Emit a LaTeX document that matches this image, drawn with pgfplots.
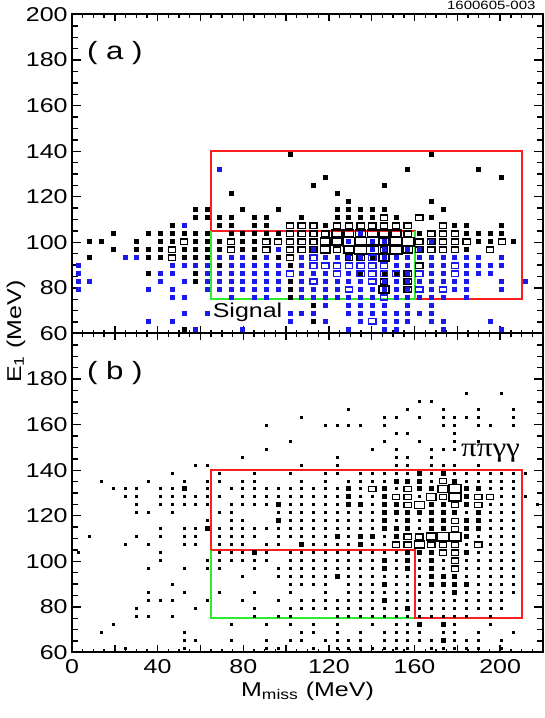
\documentclass[border=0pt]{standalone}
\usepackage{fontspec}
\setmainfont{Liberation Sans}[FakeStretch=1.25]
\newfontfamily\greekfont{Liberation Serif}[FakeStretch=1.15]
\usepackage{pgfplots}
\pgfplotsset{compat=1.18}

\definecolor{rootred}{RGB}{250,30,30}
\definecolor{rootgreen}{RGB}{45,235,45}
\definecolor{rootblue}{RGB}{25,25,235}

% open box as wide as a bin is to its height
\pgfdeclareplotmark{rbox}{%
  \pgfpathrectangle{\pgfqpoint{-1.4\pgfplotmarksize}{-\pgfplotmarksize}}%
    {\pgfqpoint{2.8\pgfplotmarksize}{2\pgfplotmarksize}}%
  \pgfusepathqstroke}

\pgfplotsset{
  panel/.style={
    scale only axis, width=235.5pt, height=159.5pt,
    xmin=0, xmax=220, ymin=60, ymax=200,
    axis line style={line width=1pt},
    xtick={0,20,...,220},
    minor xtick={0,5,...,220},
    ytick={60,80,...,200},
    minor ytick={60,65,...,200},
    tick align=inside,
    every tick/.style={black, line width=0.7pt},
    xtick style={/pgfplots/major tick length=3.5pt, /pgfplots/minor tick length=1.8pt},
    ytick style={/pgfplots/major tick length=4.5pt, /pgfplots/minor tick length=3pt},
    tick label style={font=\fontsize{10}{12}\selectfont},
    yticklabel style={inner xsep=2pt},
    /pgf/number format/assume math mode=true,
    clip=false,
  },
  boxes/.style={scatter, only marks, point meta=explicit symbolic,
    scatter/classes={
      1={mark=square*, mark size=0.5pt},
      2={mark=square*, mark size=1pt},
      3={mark=rbox, mark size=1.3pt, line width=0.65pt},
      4={mark=rbox, mark size=1.75pt, line width=0.75pt},
      5={mark=rbox, mark size=2.15pt, line width=0.85pt}}},
}

\begin{document}
\begin{tikzpicture}
\useasboundingbox (0,0) rectangle (272.5pt,359pt);

% ---------------- panel (a) ----------------
\begin{axis}[panel, at={(36pt,192.25pt)}, anchor=south west,
  xticklabels={,,,,,,,,,,,}]

% black histogram
\addplot[boxes, black] coordinates {
(101.8,138.8)[2] (167.8,138.8)[2]
(156.8,131.8)[2] (189.8,131.8)[2]
(118.3,128.3)[2] (200.8,128.3)[2]
(112.8,124.8)[2] (145.8,124.8)[2]
(74.3,121.3)[2] (123.8,121.3)[2]
(129.3,117.8)[2] (167.8,117.8)[2]
(57.8,114.3)[2] (63.3,114.3)[2] (79.8,114.3)[2] (96.3,114.3)[2] (123.8,114.3)[2] (129.3,114.3)[2] (134.8,114.3)[2] (140.3,114.3)[2] (145.8,114.3)[2] (173.3,114.3)[2]
(57.8,110.8)[2] (63.3,110.8)[2] (68.8,110.8)[2] (74.3,110.8)[2] (85.3,110.8)[2] (90.8,110.8)[2] (107.3,110.8)[2] (123.8,110.8)[2] (129.3,110.8)[2] (134.8,110.8)[2] (140.3,110.8)[2] (145.8,110.8)[3] (151.3,110.8)[2] (162.3,110.8)[3] (167.8,110.8)[2]
(46.8,107.3)[2] (68.8,107.3)[2] (74.3,107.3)[2] (85.3,107.3)[2] (90.8,107.3)[2] (101.8,107.3)[3] (107.3,107.3)[3] (112.8,107.3)[3] (118.3,107.3)[2] (123.8,107.3)[3] (129.3,107.3)[3] (134.8,107.3)[3] (140.3,107.3)[3] (145.8,107.3)[3] (151.3,107.3)[3] (156.8,107.3)[3] (173.3,107.3)[3] (178.8,107.3)[2] (184.3,107.3)[2] (200.8,107.3)[2]
(19.3,103.8)[2] (35.8,103.8)[2] (41.3,103.8)[2] (46.8,103.8)[2] (52.3,103.8)[2] (57.8,103.8)[2] (63.3,103.8)[2] (74.3,103.8)[2] (79.8,103.8)[2] (85.3,103.8)[2] (90.8,103.8)[2] (96.3,103.8)[2] (101.8,103.8)[3] (107.3,103.8)[3] (112.8,103.8)[3] (118.3,103.8)[3] (123.8,103.8)[4] (129.3,103.8)[4] (134.8,103.8)[4] (140.3,103.8)[4] (145.8,103.8)[4] (151.3,103.8)[4] (156.8,103.8)[3] (162.3,103.8)[2] (167.8,103.8)[3] (173.3,103.8)[3] (178.8,103.8)[3] (184.3,103.8)[2] (189.8,103.8)[2] (195.3,103.8)[2] (200.8,103.8)[2]
(8.3,100.3)[2] (13.8,100.3)[2] (30.3,100.3)[2] (41.3,100.3)[2] (46.8,100.3)[2] (52.3,100.3)[3] (57.8,100.3)[2] (63.3,100.3)[2] (68.8,100.3)[2] (74.3,100.3)[3] (79.8,100.3)[2] (85.3,100.3)[2] (90.8,100.3)[3] (96.3,100.3)[3] (101.8,100.3)[3] (107.3,100.3)[3] (112.8,100.3)[3] (118.3,100.3)[4] (123.8,100.3)[4] (129.3,100.3)[5] (134.8,100.3)[5] (140.3,100.3)[5] (145.8,100.3)[4] (151.3,100.3)[5] (156.8,100.3)[5] (162.3,100.3)[3] (167.8,100.3)[3] (173.3,100.3)[3] (178.8,100.3)[3] (184.3,100.3)[3] (189.8,100.3)[2] (195.3,100.3)[2] (200.8,100.3)[3] (206.3,100.3)[2]
(19.3,96.8)[2] (30.3,96.8)[2] (35.8,96.8)[2] (41.3,96.8)[2] (46.8,96.8)[3] (52.3,96.8)[2] (57.8,96.8)[2] (63.3,96.8)[2] (68.8,96.8)[2] (74.3,96.8)[3] (79.8,96.8)[2] (85.3,96.8)[2] (90.8,96.8)[3] (101.8,96.8)[3] (107.3,96.8)[3] (112.8,96.8)[3] (118.3,96.8)[4] (123.8,96.8)[3] (129.3,96.8)[4] (134.8,96.8)[5] (140.3,96.8)[5] (145.8,96.8)[3] (151.3,96.8)[5] (156.8,96.8)[4] (162.3,96.8)[3] (167.8,96.8)[3] (173.3,96.8)[3] (178.8,96.8)[3] (184.3,96.8)[2] (195.3,96.8)[3]
(8.3,93.3)[2] (35.8,93.3)[2] (41.3,93.3)[2] (46.8,93.3)[3] (52.3,93.3)[2] (57.8,93.3)[2] (63.3,93.3)[2] (85.3,93.3)[2] (96.3,93.3)[2] (101.8,93.3)[3] (123.8,93.3)[2] (129.3,93.3)[3] (134.8,93.3)[3] (140.3,93.3)[2] (145.8,93.3)[4]
(68.8,89.8)[2] (101.8,89.8)[2] (162.3,89.8)[3]
(35.8,86.3)[2] (57.8,86.3)[2] (134.8,86.3)[2] (145.8,86.3)[2] (151.3,86.3)[2] (156.8,86.3)[3]
(57.8,82.8)[2] (101.8,82.8)[2] (129.3,82.8)[2] (145.8,82.8)[3] (156.8,82.8)[3]
(101.8,79.3)[2] (145.8,79.3)[4] (156.8,79.3)[3]
(101.8,75.8)[2] (112.8,72.3)[2] (112.8,65.3)[2] (52.3,61.8)[2]
};

% blue histogram
\addplot[boxes, rootblue] coordinates {
(68.8,131.8)[2] (52.3,107.3)[2] (134.8,103.8)[2]
(129.3,100.3)[2] (140.3,100.3)[2] (145.8,100.3)[2] (167.8,100.3)[2]
(96.3,96.8)[2] (112.8,96.8)[2] (140.3,96.8)[2] (145.8,96.8)[2] (156.8,96.8)[2] (162.3,96.8)[2]
(24.8,93.3)[2] (30.3,93.3)[2] (68.8,93.3)[2] (74.3,93.3)[2] (79.8,93.3)[2] (90.8,93.3)[2] (107.3,93.3)[2] (112.8,93.3)[3] (118.3,93.3)[2] (123.8,93.3)[2] (129.3,93.3)[2] (134.8,93.3)[2] (140.3,93.3)[3] (145.8,93.3)[2] (151.3,93.3)[2] (156.8,93.3)[2] (162.3,93.3)[2] (167.8,93.3)[2] (173.3,93.3)[2] (178.8,93.3)[2] (184.3,93.3)[2] (189.8,93.3)[2] (200.8,93.3)[2]
(2.8,89.8)[2] (46.8,89.8)[2] (52.3,89.8)[2] (57.8,89.8)[2] (63.3,89.8)[2] (74.3,89.8)[2] (79.8,89.8)[2] (85.3,89.8)[2] (90.8,89.8)[2] (96.3,89.8)[2] (107.3,89.8)[2] (112.8,89.8)[3] (118.3,89.8)[3] (123.8,89.8)[3] (129.3,89.8)[3] (134.8,89.8)[3] (140.3,89.8)[3] (145.8,89.8)[3] (151.3,89.8)[2] (156.8,89.8)[2] (167.8,89.8)[2] (173.3,89.8)[2] (178.8,89.8)[3] (184.3,89.8)[2] (189.8,89.8)[2] (195.3,89.8)[2] (200.8,89.8)[2]
(2.8,86.3)[2] (41.3,86.3)[2] (46.8,86.3)[2] (63.3,86.3)[2] (68.8,86.3)[2] (74.3,86.3)[2] (79.8,86.3)[2] (85.3,86.3)[2] (90.8,86.3)[2] (96.3,86.3)[2] (101.8,86.3)[3] (107.3,86.3)[2] (112.8,86.3)[2] (118.3,86.3)[2] (123.8,86.3)[3] (129.3,86.3)[2] (134.8,86.3)[3] (140.3,86.3)[3] (145.8,86.3)[3] (151.3,86.3)[3] (156.8,86.3)[2] (162.3,86.3)[3] (167.8,86.3)[2] (173.3,86.3)[2] (178.8,86.3)[3] (184.3,86.3)[2] (189.8,86.3)[2] (195.3,86.3)[2]
(2.8,82.8)[2] (8.3,82.8)[2] (41.3,82.8)[2] (52.3,82.8)[2] (63.3,82.8)[2] (68.8,82.8)[2] (74.3,82.8)[2] (79.8,82.8)[2] (85.3,82.8)[2] (90.8,82.8)[2] (96.3,82.8)[2] (107.3,82.8)[2] (112.8,82.8)[3] (118.3,82.8)[2] (123.8,82.8)[2] (129.3,82.8)[2] (134.8,82.8)[2] (140.3,82.8)[3] (145.8,82.8)[2] (151.3,82.8)[2] (156.8,82.8)[2] (162.3,82.8)[2] (167.8,82.8)[2] (173.3,82.8)[2] (178.8,82.8)[2] (184.3,82.8)[2] (200.8,82.8)[2] (211.8,82.8)[2]
(2.8,79.3)[2] (35.8,79.3)[2] (46.8,79.3)[2] (63.3,79.3)[2] (68.8,79.3)[2] (74.3,79.3)[2] (79.8,79.3)[2] (85.3,79.3)[2] (90.8,79.3)[2] (96.3,79.3)[2] (107.3,79.3)[2] (112.8,79.3)[2] (118.3,79.3)[2] (123.8,79.3)[2] (129.3,79.3)[3] (134.8,79.3)[2] (140.3,79.3)[2] (145.8,79.3)[2] (151.3,79.3)[2] (156.8,79.3)[2] (162.3,79.3)[3] (167.8,79.3)[2] (173.3,79.3)[3] (178.8,79.3)[2] (184.3,79.3)[2] (200.8,79.3)[2]
(46.8,75.8)[2] (52.3,75.8)[2] (74.3,75.8)[2] (85.3,75.8)[2] (90.8,75.8)[2] (107.3,75.8)[2] (112.8,75.8)[2] (118.3,75.8)[2] (123.8,75.8)[2] (129.3,75.8)[2] (134.8,75.8)[2] (140.3,75.8)[2] (145.8,75.8)[3] (151.3,75.8)[2] (156.8,75.8)[2] (162.3,75.8)[2] (167.8,75.8)[2] (173.3,75.8)[2] (184.3,75.8)[2]
(118.3,72.3)[2] (129.3,72.3)[2] (134.8,72.3)[2] (140.3,72.3)[2] (145.8,72.3)[2] (156.8,72.3)[2] (167.8,72.3)[2]
(52.3,68.8)[2] (63.3,68.8)[2] (101.8,68.8)[2] (107.3,68.8)[2] (112.8,68.8)[2] (129.3,68.8)[2] (134.8,68.8)[2] (140.3,68.8)[2] (145.8,68.8)[2] (151.3,68.8)[2] (156.8,68.8)[2] (162.3,68.8)[2] (167.8,68.8)[2]
(35.8,65.3)[2] (46.8,65.3)[2] (101.8,65.3)[2] (118.3,65.3)[2] (134.8,65.3)[2] (140.3,65.3)[3] (145.8,65.3)[2] (151.3,65.3)[2] (156.8,65.3)[2] (167.8,65.3)[2] (173.3,65.3)[2] (195.3,65.3)[2]
(57.8,61.8)[2] (79.8,61.8)[2] (129.3,61.8)[2] (145.8,61.8)[2] (151.3,61.8)[2] (173.3,61.8)[2] (200.8,61.8)[2]
};

% selection boxes
\addplot[rootred, line width=1pt, no markers] coordinates {
(65,105) (65,140) (210,140) (210,75) (160,75) (160,105) (65,105)};
\addplot[rootgreen, line width=1pt, no markers] coordinates {
(65,105) (65,75) (160,75) (160,105)};

\node[font=\fontsize{12.5}{14}\selectfont] at (axis cs:20,183) {( a )};
\node[font=\fontsize{10}{12}\selectfont] at (axis cs:82,69.5) {Signal};
\node[font=\fontsize{6}{7}\selectfont, anchor=south east, inner sep=0pt]
  at ([yshift=2pt]rel axis cs:0.985,1) {1600605-003};
\end{axis}

% ---------------- panel (b) ----------------
\begin{axis}[panel, at={(36pt,32.75pt)}, anchor=south west,
  xticklabels={0,,40,,80,,120,,160,,200,},
  yticklabels={60,80,100,120,140,160,180,{}}]

\addplot[rootgreen, line width=1pt, no markers] coordinates {
(65,105) (65,75) (160,75) (160,105) (65,105)};
\addplot[rootred, line width=1pt, no markers] coordinates {
(65,105) (65,140) (210,140) (210,75) (160,75) (160,105) (65,105)};

% single entries
\addplot[black, only marks, mark=square*, mark size=0.5pt] coordinates {
(184.3,173.8) (200.8,173.8)
(162.3,170.3) (167.8,170.3)
(129.3,166.8) (156.8,166.8) (173.3,166.8) (189.8,166.8) (206.3,166.8)
(107.3,163.3) (145.8,163.3) (151.3,163.3) (162.3,163.3) (173.3,163.3) (178.8,163.3) (184.3,163.3) (189.8,163.3) (206.3,163.3)
(90.8,159.8) (118.3,159.8) (123.8,159.8) (129.3,159.8) (134.8,159.8) (145.8,159.8) (173.3,159.8) (178.8,159.8) (189.8,159.8) (195.3,159.8) (206.3,159.8)
(151.3,156.3) (156.8,156.3) (178.8,156.3)
(101.8,152.8) (145.8,152.8) (162.3,152.8) (178.8,152.8) (189.8,152.8)
(90.8,149.3) (140.3,149.3) (151.3,149.3) (167.8,149.3) (173.3,149.3) (178.8,149.3)
(79.8,145.8) (123.8,145.8) (151.3,145.8) (156.8,145.8) (167.8,145.8)
(57.8,142.3) (63.3,142.3) (107.3,142.3) (123.8,142.3) (151.3,142.3) (156.8,142.3) (167.8,142.3) (173.3,142.3) (178.8,142.3) (189.8,142.3)
(46.8,138.8) (68.8,138.8) (85.3,138.8) (101.8,138.8) (118.3,138.8) (123.8,138.8) (134.8,138.8) (140.3,138.8) (145.8,138.8) (151.3,138.8) (156.8,138.8) (167.8,138.8) (178.8,138.8) (184.3,138.8) (189.8,138.8) (195.3,138.8) (200.8,138.8) (206.3,138.8) (211.8,138.8)
(13.8,135.3) (35.8,135.3) (52.3,135.3) (63.3,135.3) (68.8,135.3) (79.8,135.3) (85.3,135.3) (107.3,135.3) (118.3,135.3) (129.3,135.3) (134.8,135.3) (140.3,135.3) (145.8,135.3) (167.8,135.3) (184.3,135.3) (189.8,135.3) (195.3,135.3) (200.8,135.3) (206.3,135.3)
(19.3,131.8) (24.8,131.8) (30.3,131.8) (41.3,131.8) (46.8,131.8) (63.3,131.8) (74.3,131.8) (79.8,131.8) (85.3,131.8) (90.8,131.8) (96.3,131.8) (101.8,131.8) (107.3,131.8) (112.8,131.8) (118.3,131.8) (123.8,131.8) (134.8,131.8) (151.3,131.8) (195.3,131.8) (200.8,131.8) (206.3,131.8)
(24.8,128.3) (30.3,128.3) (41.3,128.3) (46.8,128.3) (52.3,128.3) (57.8,128.3) (63.3,128.3) (68.8,128.3) (79.8,128.3) (85.3,128.3) (90.8,128.3) (96.3,128.3) (101.8,128.3) (107.3,128.3) (112.8,128.3) (118.3,128.3) (123.8,128.3) (134.8,128.3) (140.3,128.3) (162.3,128.3) (200.8,128.3) (206.3,128.3) (211.8,128.3)
(30.3,124.8) (41.3,124.8) (46.8,124.8) (52.3,124.8) (57.8,124.8) (63.3,124.8) (74.3,124.8) (79.8,124.8) (85.3,124.8) (90.8,124.8) (101.8,124.8) (107.3,124.8) (112.8,124.8) (118.3,124.8) (123.8,124.8) (140.3,124.8) (195.3,124.8) (200.8,124.8) (206.3,124.8) (217.3,124.8)
(30.3,121.3) (35.8,121.3) (46.8,121.3) (68.8,121.3) (74.3,121.3) (96.3,121.3) (101.8,121.3) (107.3,121.3) (112.8,121.3) (118.3,121.3) (123.8,121.3) (129.3,121.3) (134.8,121.3) (140.3,121.3) (184.3,121.3) (195.3,121.3) (200.8,121.3) (206.3,121.3)
(63.3,117.8) (74.3,117.8) (79.8,117.8) (101.8,117.8) (107.3,117.8) (112.8,117.8) (118.3,117.8) (123.8,117.8) (129.3,117.8) (134.8,117.8) (140.3,117.8) (151.3,117.8) (162.3,117.8) (195.3,117.8) (200.8,117.8) (206.3,117.8)
(41.3,114.3) (52.3,114.3) (57.8,114.3) (68.8,114.3) (74.3,114.3) (79.8,114.3) (85.3,114.3) (90.8,114.3) (96.3,114.3) (101.8,114.3) (107.3,114.3) (112.8,114.3) (118.3,114.3) (123.8,114.3) (129.3,114.3) (134.8,114.3) (140.3,114.3) (162.3,114.3) (195.3,114.3) (200.8,114.3) (206.3,114.3)
(8.3,110.8) (30.3,110.8) (41.3,110.8) (52.3,110.8) (57.8,110.8) (68.8,110.8) (74.3,110.8) (79.8,110.8) (85.3,110.8) (96.3,110.8) (101.8,110.8) (107.3,110.8) (112.8,110.8) (118.3,110.8) (129.3,110.8) (145.8,110.8) (189.8,110.8) (195.3,110.8) (200.8,110.8) (206.3,110.8)
(24.8,107.3) (35.8,107.3) (52.3,107.3) (57.8,107.3) (68.8,107.3) (74.3,107.3) (79.8,107.3) (90.8,107.3) (96.3,107.3) (112.8,107.3) (118.3,107.3) (123.8,107.3) (129.3,107.3) (140.3,107.3) (145.8,107.3) (184.3,107.3) (195.3,107.3) (200.8,107.3) (206.3,107.3)
(2.8,103.8) (41.3,103.8) (68.8,103.8) (74.3,103.8) (79.8,103.8) (90.8,103.8) (101.8,103.8) (107.3,103.8) (112.8,103.8) (118.3,103.8) (123.8,103.8) (129.3,103.8) (134.8,103.8) (140.3,103.8) (145.8,103.8) (151.3,103.8) (189.8,103.8) (195.3,103.8) (200.8,103.8) (206.3,103.8)
(41.3,100.3) (63.3,100.3) (68.8,100.3) (74.3,100.3) (79.8,100.3) (85.3,100.3) (90.8,100.3) (101.8,100.3) (107.3,100.3) (112.8,100.3) (118.3,100.3) (123.8,100.3) (129.3,100.3) (134.8,100.3) (140.3,100.3) (151.3,100.3) (162.3,100.3) (173.3,100.3) (184.3,100.3) (189.8,100.3) (195.3,100.3) (200.8,100.3) (206.3,100.3)
(35.8,96.8) (52.3,96.8) (63.3,96.8) (68.8,96.8) (85.3,96.8) (96.3,96.8) (101.8,96.8) (107.3,96.8) (112.8,96.8) (118.3,96.8) (123.8,96.8) (129.3,96.8) (134.8,96.8) (140.3,96.8) (151.3,96.8) (162.3,96.8) (173.3,96.8) (184.3,96.8) (189.8,96.8) (195.3,96.8) (200.8,96.8) (206.3,96.8)
(79.8,93.3) (96.3,93.3) (101.8,93.3) (107.3,93.3) (112.8,93.3) (118.3,93.3) (129.3,93.3) (134.8,93.3) (140.3,93.3) (145.8,93.3) (151.3,93.3) (156.8,93.3) (162.3,93.3) (184.3,93.3) (189.8,93.3) (195.3,93.3) (200.8,93.3) (206.3,93.3)
(46.8,89.8) (101.8,89.8) (107.3,89.8) (112.8,89.8) (118.3,89.8) (129.3,89.8) (134.8,89.8) (140.3,89.8) (151.3,89.8) (156.8,89.8) (162.3,89.8) (189.8,89.8) (195.3,89.8) (200.8,89.8) (206.3,89.8)
(35.8,86.3) (52.3,86.3) (68.8,86.3) (85.3,86.3) (101.8,86.3) (118.3,86.3) (129.3,86.3) (134.8,86.3) (140.3,86.3) (145.8,86.3) (151.3,86.3) (156.8,86.3) (162.3,86.3) (167.8,86.3) (173.3,86.3) (184.3,86.3) (189.8,86.3) (195.3,86.3) (200.8,86.3) (206.3,86.3)
(35.8,82.8) (41.3,82.8) (46.8,82.8) (63.3,82.8) (79.8,82.8) (96.3,82.8) (107.3,82.8) (112.8,82.8) (118.3,82.8) (123.8,82.8) (129.3,82.8) (134.8,82.8) (140.3,82.8) (151.3,82.8) (156.8,82.8) (162.3,82.8) (167.8,82.8) (173.3,82.8) (178.8,82.8) (184.3,82.8) (189.8,82.8) (195.3,82.8) (200.8,82.8)
(30.3,79.3) (57.8,79.3) (85.3,79.3) (101.8,79.3) (107.3,79.3) (112.8,79.3) (118.3,79.3) (123.8,79.3) (129.3,79.3) (134.8,79.3) (140.3,79.3) (145.8,79.3) (151.3,79.3) (162.3,79.3) (167.8,79.3) (173.3,79.3) (178.8,79.3) (184.3,79.3) (189.8,79.3) (195.3,79.3) (200.8,79.3)
(30.3,75.8) (35.8,75.8) (46.8,75.8) (85.3,75.8) (96.3,75.8) (101.8,75.8) (123.8,75.8) (129.3,75.8) (134.8,75.8) (140.3,75.8) (145.8,75.8) (151.3,75.8) (156.8,75.8) (162.3,75.8) (167.8,75.8) (173.3,75.8) (178.8,75.8) (184.3,75.8) (195.3,75.8)
(19.3,72.3) (74.3,72.3) (90.8,72.3) (101.8,72.3) (112.8,72.3) (123.8,72.3) (140.3,72.3) (151.3,72.3) (156.8,72.3) (178.8,72.3) (195.3,72.3)
(13.8,68.8) (52.3,68.8) (107.3,68.8) (112.8,68.8) (123.8,68.8) (134.8,68.8) (145.8,68.8) (151.3,68.8) (156.8,68.8) (162.3,68.8) (173.3,68.8) (178.8,68.8) (189.8,68.8) (206.3,68.8)
(52.3,65.3) (57.8,65.3) (74.3,65.3) (90.8,65.3) (101.8,65.3) (107.3,65.3) (118.3,65.3) (123.8,65.3) (129.3,65.3) (134.8,65.3) (145.8,65.3) (151.3,65.3) (156.8,65.3) (162.3,65.3) (167.8,65.3) (178.8,65.3) (184.3,65.3) (189.8,65.3) (200.8,65.3)
(24.8,61.8) (52.3,61.8) (90.8,61.8) (96.3,61.8) (112.8,61.8) (123.8,61.8) (129.3,61.8) (134.8,61.8) (140.3,61.8) (145.8,61.8) (151.3,61.8) (156.8,61.8) (167.8,61.8) (173.3,61.8) (178.8,61.8) (184.3,61.8) (189.8,61.8) (200.8,61.8)
};

% cells with more entries
\addplot[boxes, black] coordinates {
(162.3,138.8)[2] (173.3,138.8)[2]
(151.3,135.3)[2] (156.8,135.3)[2] (162.3,135.3)[2] (173.3,135.3)[3] (178.8,135.3)[2]
(52.3,131.8)[2] (129.3,131.8)[2] (140.3,131.8)[3] (145.8,131.8)[2] (156.8,131.8)[3] (162.3,131.8)[2] (167.8,131.8)[2] (173.3,131.8)[4] (178.8,131.8)[5] (184.3,131.8)[2] (189.8,131.8)[2]
(129.3,128.3)[2] (145.8,128.3)[2] (151.3,128.3)[3] (156.8,128.3)[3] (167.8,128.3)[4] (173.3,128.3)[3] (178.8,128.3)[5] (184.3,128.3)[2] (189.8,128.3)[3] (195.3,128.3)[3]
(96.3,124.8)[2] (129.3,124.8)[2] (134.8,124.8)[2] (145.8,124.8)[2] (151.3,124.8)[2] (156.8,124.8)[3] (162.3,124.8)[4] (167.8,124.8)[2] (173.3,124.8)[2] (178.8,124.8)[3] (184.3,124.8)[2] (189.8,124.8)[3]
(145.8,121.3)[2] (151.3,121.3)[2] (156.8,121.3)[2] (162.3,121.3)[2] (167.8,121.3)[2] (173.3,121.3)[2] (178.8,121.3)[2] (189.8,121.3)[2]
(96.3,117.8)[2] (145.8,117.8)[2] (156.8,117.8)[2] (167.8,117.8)[2] (173.3,117.8)[2] (178.8,117.8)[3] (184.3,117.8)[2] (189.8,117.8)[2]
(63.3,114.3)[2] (145.8,114.3)[2] (151.3,114.3)[2] (156.8,114.3)[2] (167.8,114.3)[2] (173.3,114.3)[2] (178.8,114.3)[3] (184.3,114.3)[2] (189.8,114.3)[2]
(123.8,110.8)[2] (134.8,110.8)[2] (140.3,110.8)[2] (151.3,110.8)[2] (156.8,110.8)[3] (162.3,110.8)[3] (167.8,110.8)[4] (173.3,110.8)[5] (178.8,110.8)[5] (184.3,110.8)[2]
(107.3,107.3)[2] (134.8,107.3)[2] (151.3,107.3)[3] (156.8,107.3)[3] (162.3,107.3)[4] (167.8,107.3)[3] (173.3,107.3)[3] (178.8,107.3)[3] (189.8,107.3)[3]
(85.3,103.8)[2] (156.8,103.8)[2] (162.3,103.8)[2] (167.8,103.8)[2] (173.3,103.8)[3] (178.8,103.8)[3] (184.3,103.8)[2]
(145.8,100.3)[2] (156.8,100.3)[2] (167.8,100.3)[2] (178.8,100.3)[3]
(145.8,96.8)[2] (156.8,96.8)[2] (167.8,96.8)[2] (178.8,96.8)[3]
(123.8,93.3)[2] (167.8,93.3)[2] (173.3,93.3)[2] (178.8,93.3)[2]
(145.8,89.8)[2] (167.8,89.8)[2] (173.3,89.8)[2] (178.8,89.8)[2] (184.3,89.8)[2]
(178.8,86.3)[2] (145.8,82.8)[2] (156.8,79.3)[2]
(162.3,72.3)[2] (173.3,72.3)[2] (173.3,65.3)[2]
};

\node[font=\fontsize{12.5}{14}\selectfont] at (axis cs:20,182.8) {( b )};
\node[font=\greekfont\fontsize{13.5}{15}\selectfont] at (axis cs:195.5,147.3) {ππγγ};
\node[font=\fontsize{10}{12}\selectfont, anchor=base]
  at ([yshift=-22pt]rel axis cs:0.5,0) {M\textsubscript{miss} (MeV)};
\end{axis}

\node[font=\fontsize{10}{12}\selectfont, rotate=90, anchor=base]
  at (10.5pt,193.25pt) {E\textsubscript{1} (MeV)};
\end{tikzpicture}
\end{document}
